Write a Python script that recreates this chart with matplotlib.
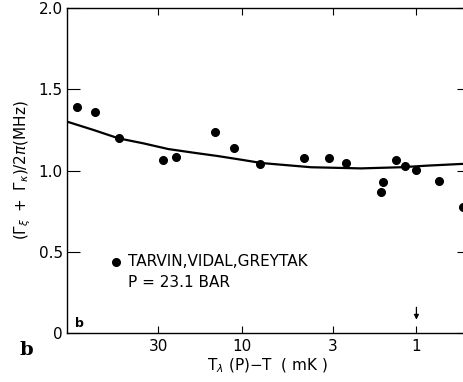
import numpy as np
import matplotlib
matplotlib.use("Agg")
import matplotlib.pyplot as plt
from matplotlib.ticker import FixedLocator, NullLocator

plt.rcParams['font.family'] = ['Liberation Sans Narrow', 'DejaVu Sans']
plt.rcParams['mathtext.fontset'] = 'dejavusans'

# data points, x = T_lambda(P) - T in mK, y = (G_xi + G_k)/2pi in MHz
dt_mk = [87.7, 69.0, 50.7, 28.4, 23.7, 14.2, 11.1, 7.87, 4.39, 3.18, 2.54,
         1.31, 1.55, 1.60, 1.165, 1.01, 0.743, 0.539]
gamma = [1.389, 1.362, 1.198, 1.063, 1.083, 1.235, 1.140, 1.042, 1.075, 1.075,
         1.044, 1.063, 0.929, 0.868, 1.030, 1.005, 0.933, 0.777]

# theory curve
curve_x = [100, 97.4, 70.3, 50.7, 36.5, 26.3, 19.0, 13.7, 9.87, 7.70, 4.0,
           2.08, 1.23, 0.866, 0.562, 0.5]
curve_y = [1.30, 1.297, 1.249, 1.198, 1.167, 1.132, 1.11, 1.089, 1.065, 1.046,
           1.020, 1.013, 1.02, 1.03, 1.04, 1.042]

xticks = [30, 10, 3, 1]
xtick_labels = ['30', '10', '3', '1']
yticks = [0, 0.5, 1.0, 1.5, 2.0]
ytick_labels = ['0', '0.5', '1.0', '1.5', '2.0']

fig = plt.figure(figsize=(4.64, 3.82), dpi=100)
ax = fig.add_axes([0.1444, 0.1283, 0.8664, 0.8507])

ax.plot(curve_x, curve_y, color='black', lw=1.6)
ax.plot(dt_mk, gamma, 'o', color='black', ms=5.5, clip_on=False)

ax.set_xscale('log')
ax.set_xlim(100, 0.5)
ax.set_ylim(0, 2.0)

ax.xaxis.set_major_locator(FixedLocator(xticks))
ax.xaxis.set_minor_locator(NullLocator())
ax.set_xticklabels(xtick_labels)
ax.set_yticks(yticks)
ax.set_yticklabels(ytick_labels)

ax.tick_params(axis='x', which='both', direction='in', length=5, width=0.8,
               top=True, labelsize=11, pad=4)
ax.tick_params(axis='y', direction='in', length=9, width=0.8,
               right=True, labelsize=11, pad=3)
ax.spines['right'].set_visible(False)
for s in ['left', 'bottom', 'top']:
    ax.spines[s].set_linewidth(1.0)

ax.set_xlabel(r'T$_\lambda$ (P)$-$T  ( mK )', fontsize=11, labelpad=2)
ax.set_ylabel(r'$(\Gamma_\xi\ +\ \Gamma_\kappa)/2\pi$(MHz)', fontsize=11, labelpad=4)

# legend text
ax.plot([52.7], [0.437], 'o', color='black', ms=5.5)
ax.text(45, 0.437, 'TARVIN,VIDAL,GREYTAK', fontsize=11, va='center', ha='left')
ax.text(45, 0.308, 'P = 23.1 BAR', fontsize=11, va='center', ha='left')

# arrow at 1 mK
ax.annotate('', xy=(1, 0.065), xytext=(1, 0.175),
            arrowprops=dict(arrowstyle='-|>', color='black', lw=0.9,
                            mutation_scale=7))

ax.text(0.02, 0.01, 'b', transform=ax.transAxes, fontsize=9,
        fontweight='bold', family='DejaVu Sans', va='bottom', ha='left')
fig.text(0.043, 0.083, 'b', fontsize=14, fontweight='bold',
         family='DejaVu Serif', va='center', ha='left')

fig.savefig('out.png', dpi=100)
